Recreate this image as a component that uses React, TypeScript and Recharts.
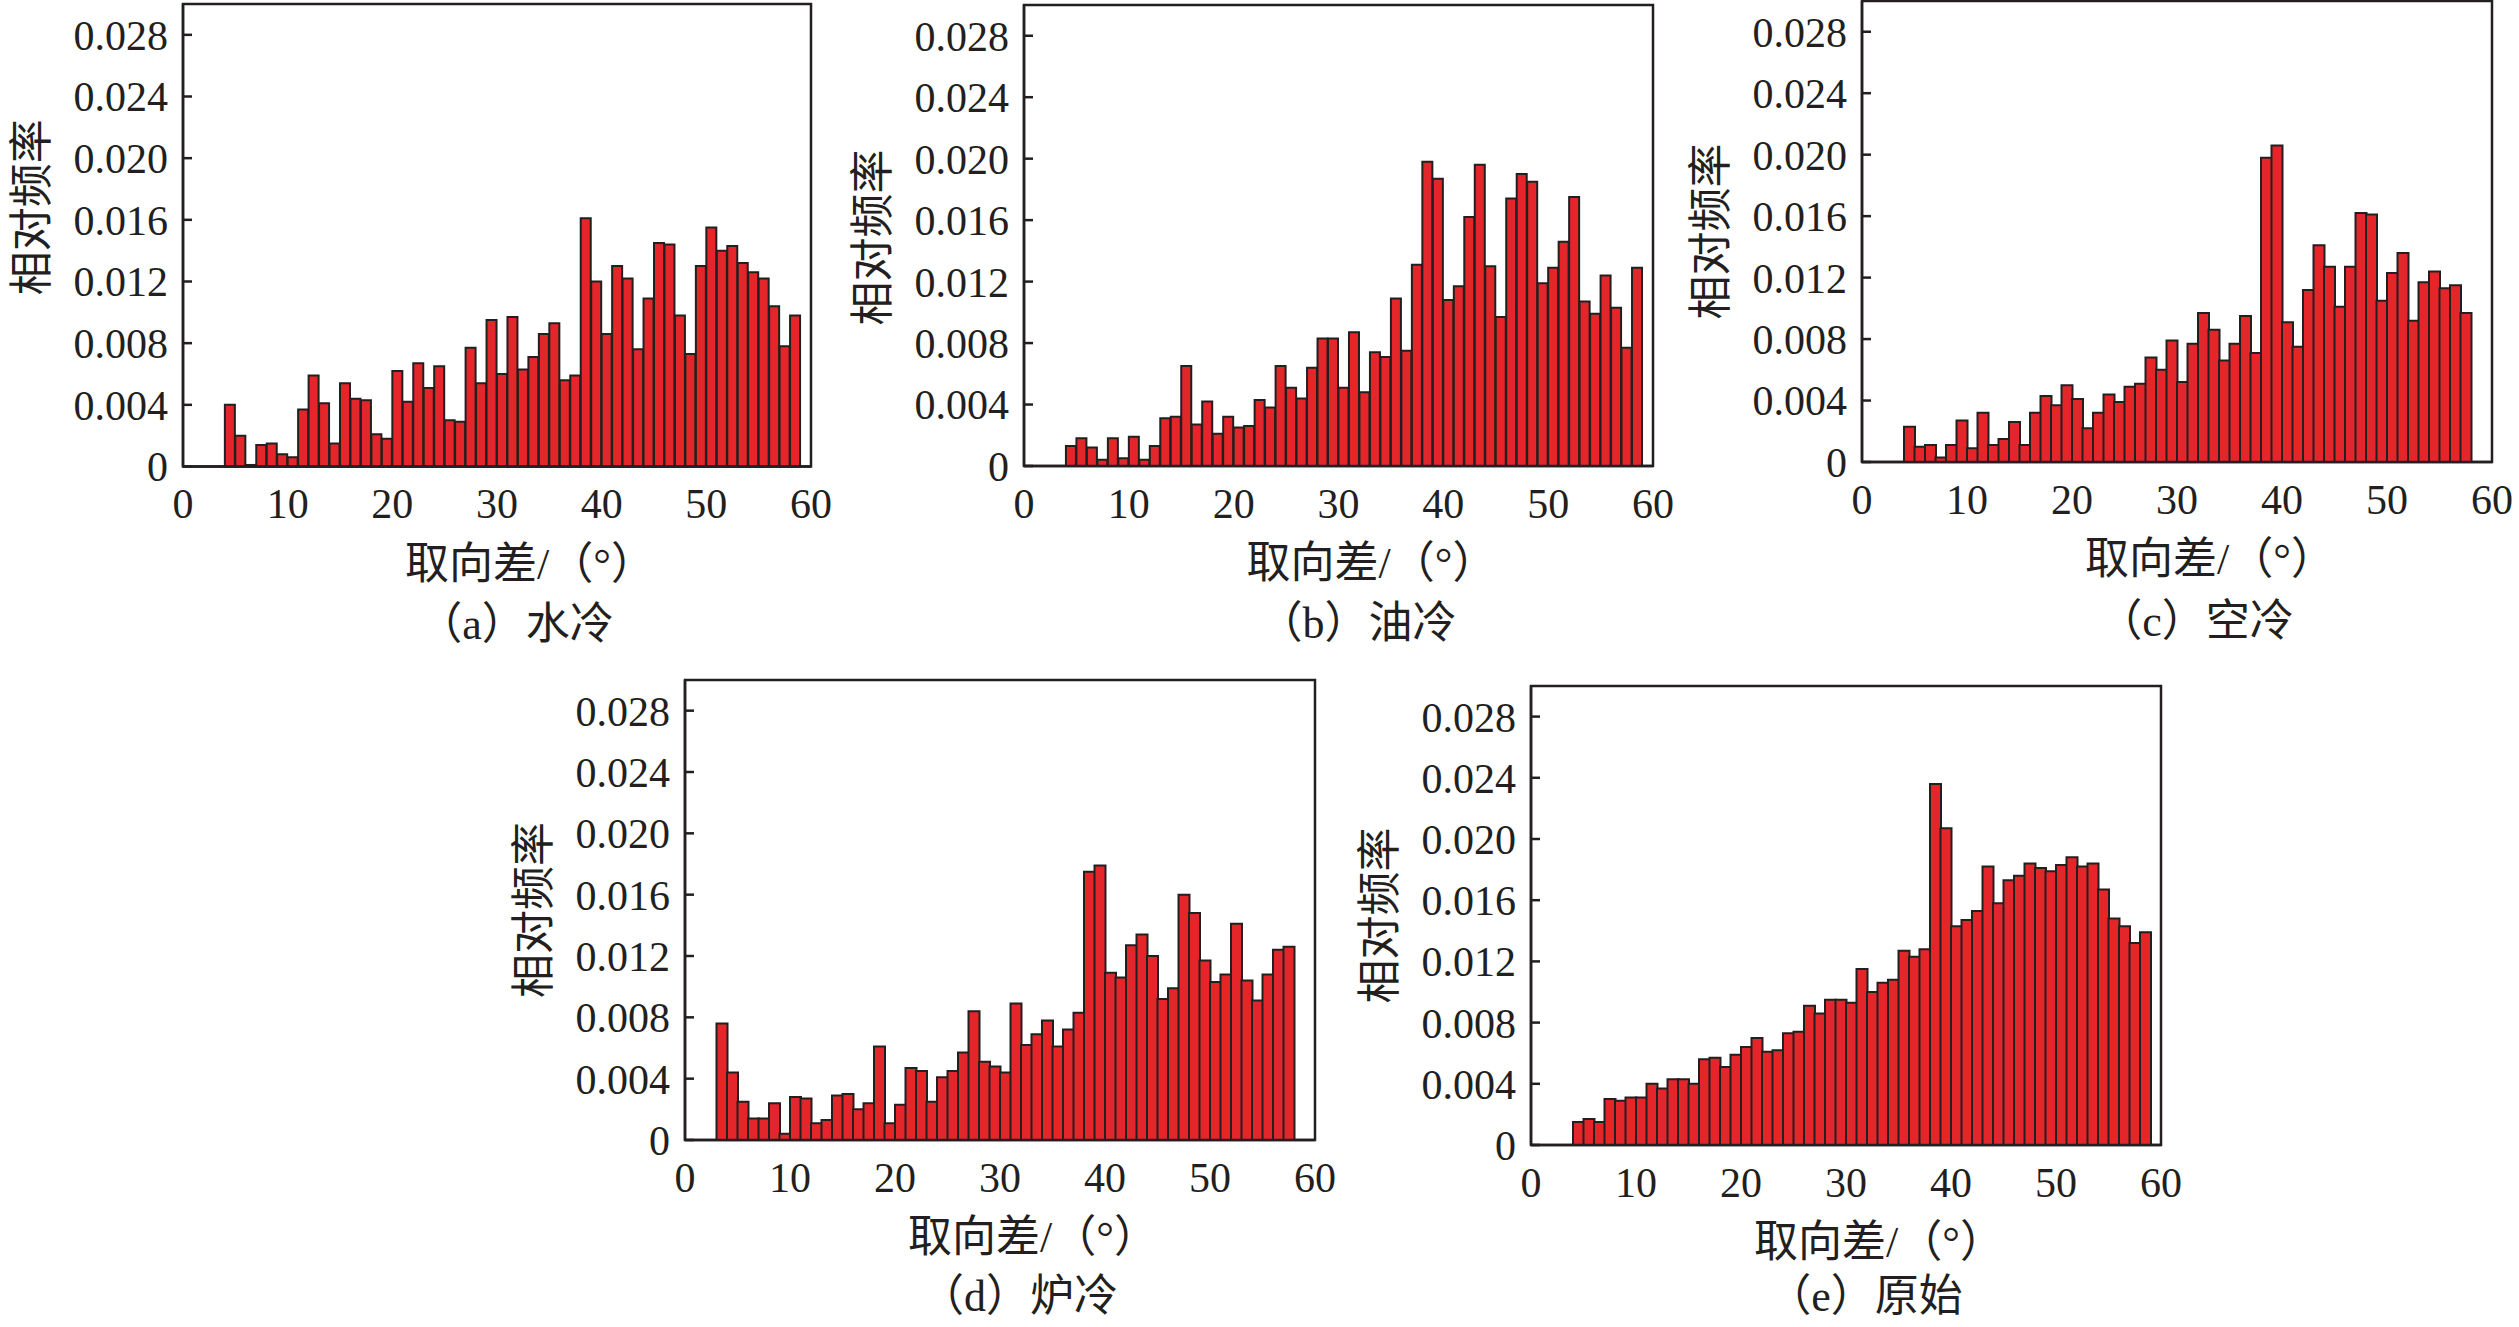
import React from 'react';
import { BarChart, Bar, XAxis, YAxis, ReferenceArea } from 'recharts';

// ---- data ----
const X_TICKS = [0, 10, 20, 30, 40, 50, 60];
const Y_TICKS = [0, 0.004, 0.008, 0.012, 0.016, 0.02, 0.024, 0.028];

const X_LABEL = '取向差/（°）';
const Y_LABEL = '相对频率';

// (a) 水冷, bins start at 4°
const WATER = [
  0.004, 0.002, 0.0001, 0.0014, 0.0015, 0.0008, 0.0006, 0.0037, 0.0059, 0.0041,
  0.0015, 0.0054, 0.0044, 0.0043, 0.0021, 0.0018, 0.0062, 0.0042, 0.0067, 0.0051,
  0.0065, 0.003, 0.0029, 0.0077, 0.0054, 0.0095, 0.006, 0.0097, 0.0063, 0.0071,
  0.0086, 0.0093, 0.0056, 0.0059, 0.0161, 0.012, 0.0086, 0.013, 0.0122, 0.0076,
  0.0109, 0.0145, 0.0144, 0.0098, 0.0073, 0.013, 0.0155, 0.014, 0.0143, 0.0132,
  0.0126, 0.0122, 0.0104, 0.0078, 0.0098,
];
// (b) 油冷, bins start at 4°
const OIL = [
  0.0013, 0.0018, 0.0012, 0.0004, 0.0018, 0.0005, 0.0019, 0.0004, 0.0013, 0.0031,
  0.0032, 0.0065, 0.0027, 0.0042, 0.0021, 0.0032, 0.0025, 0.0026, 0.0043, 0.0038,
  0.0065, 0.0051, 0.0044, 0.0064, 0.0083, 0.0083, 0.0051, 0.0087, 0.0048, 0.0074,
  0.0071, 0.0109, 0.0075, 0.0131, 0.0198, 0.0187, 0.0108, 0.0117, 0.0162, 0.0196,
  0.013, 0.0097, 0.0174, 0.019, 0.0185, 0.0119, 0.0129, 0.0146, 0.0175, 0.0107,
  0.0099, 0.0124, 0.0103, 0.0077, 0.0129,
];
// (c) 空冷, bins start at 4°
const AIR = [
  0.0023, 0.001, 0.0011, 0.0003, 0.0011, 0.0027, 0.0009, 0.0032, 0.0011, 0.0015,
  0.0026, 0.0011, 0.0032, 0.0043, 0.0037, 0.005, 0.0041, 0.0022, 0.0032, 0.0044,
  0.0039, 0.0049, 0.0051, 0.0068, 0.006, 0.0079, 0.0052, 0.0077, 0.0097, 0.0086,
  0.0066, 0.0077, 0.0095, 0.0071, 0.0198, 0.0206, 0.0091, 0.0075, 0.0112, 0.0141,
  0.0127, 0.0101, 0.0127, 0.0162, 0.0161, 0.0105, 0.0123, 0.0136, 0.0092, 0.0117,
  0.0124, 0.0113, 0.0115, 0.0097,
];
// (d) 炉冷, bins start at 3°
const FURNACE = [
  0.0076, 0.0044, 0.0025, 0.0014, 0.0014, 0.0024, 0.0004, 0.0028, 0.0027, 0.0011,
  0.0013, 0.0029, 0.003, 0.002, 0.0024, 0.0061, 0.0011, 0.0023, 0.0047, 0.0045,
  0.0025, 0.0041, 0.0045, 0.0057, 0.0084, 0.0051, 0.0048, 0.0044, 0.0089, 0.0062,
  0.0069, 0.0078, 0.0061, 0.0072, 0.0083, 0.0175, 0.0179, 0.0109, 0.0106, 0.0127,
  0.0134, 0.012, 0.0092, 0.0099, 0.016, 0.0148, 0.0117, 0.0103, 0.0108, 0.0141,
  0.0104, 0.0091, 0.0108, 0.0124, 0.0126,
];
// (e) 原始, bins start at 4°
const ORIGINAL = [
  0.0015, 0.0017, 0.0015, 0.003, 0.0029, 0.0031, 0.0031, 0.004, 0.0037, 0.0043,
  0.0043, 0.004, 0.0056, 0.0057, 0.0051, 0.0059, 0.0064, 0.007, 0.0061, 0.0062,
  0.0073, 0.0074, 0.0091, 0.0086, 0.0095, 0.0095, 0.0093, 0.0115, 0.01, 0.0106,
  0.0108, 0.0127, 0.0123, 0.0128, 0.0236, 0.0207, 0.0143, 0.0147, 0.0153, 0.0182,
  0.0158, 0.0173, 0.0176, 0.0184, 0.0181, 0.0179, 0.0183, 0.0188, 0.0182, 0.0184,
  0.0167, 0.0148, 0.0143, 0.0132, 0.0139,
];

const PANELS = [
  { values: WATER, start: 4, caption: '（a）水冷', l: 183, t: 3.5, w: 628, h: 462.5, yShift: -28, capDy: 172 },
  { values: OIL, start: 4, caption: '（b）油冷', l: 1024, t: 5, w: 629, h: 461, yShift: 2, capDy: 172 },
  { values: AIR, start: 4, caption: '（c）空冷', l: 1862, t: 1, w: 630, h: 461, yShift: 0, capDy: 174 },
  { values: FURNACE, start: 3, caption: '（d）炉冷', l: 685, t: 680, w: 630, h: 460, yShift: 0, capDy: 171 },
  { values: ORIGINAL, start: 4, caption: '（e）原始', l: 1531, t: 686, w: 630, h: 459, yShift: 0, capDy: 166 },
];

const INK = '#231f20';
const RED = '#e4262a';
const LATIN = 'Liberation Serif';
const MIXED = 'Liberation Serif, Noto Sans CJK SC';

const ML = 180;
const MT = 20;
const MR = 40;
const MB = 200;

function XTick(props: any) {
  const { x, y, payload } = props;
  return (
    <text
      x={x}
      y={y}
      dy="0.71em"
      textAnchor="middle"
      fontSize={42}
      fontFamily={LATIN}
      style={{ fontFamily: LATIN }}
      fill={INK}
    >
      {String(payload.value)}
    </text>
  );
}

function YTick(props: any) {
  const { x, y, payload } = props;
  const v = Number(payload.value);
  return (
    <text
      x={x}
      y={y}
      dy="0.355em"
      textAnchor="end"
      fontSize={42}
      fontFamily={LATIN}
      style={{ fontFamily: LATIN }}
      fill={INK}
    >
      {v === 0 ? '0' : v.toFixed(3)}
    </text>
  );
}

function Panel(props: any) {
  const { values, start, caption, l, t, w, h, yShift, capDy } = props;
  const data = values.map((v: number, i: number) => ({ x: start + i + 0.5, v }));
  const W = ML + w + MR;
  const H = MT + h + MB;
  const cx = ML + w / 2;
  const axisY = MT + h;
  const yCx = ML - 153 + 17;
  const yCy = MT + h / 2 + yShift;

  const xTitle = () => (
    <g>
      <text
        x={cx + 33}
        y={axisY + 112}
        textAnchor="middle"
        fontSize={44}
        fontFamily={MIXED}
        style={{ fontFamily: MIXED }}
        fill={INK}
      >
        {X_LABEL}
      </text>
      <text
        x={cx + 19}
        y={axisY + capDy}
        textAnchor="middle"
        fontSize={44}
        fontFamily={MIXED}
        style={{ fontFamily: MIXED }}
        fill={INK}
      >
        {caption}
      </text>
    </g>
  );
  const yTitle = () => (
    <text
      x={yCx}
      y={yCy}
      textAnchor="middle"
      fontSize={44}
      fontFamily={MIXED}
      style={{ fontFamily: MIXED }}
      fill={INK}
      transform={`rotate(-90, ${yCx}, ${yCy})`}
    >
      {Y_LABEL}
    </text>
  );

  return (
    <div style={{ position: 'absolute', left: l - ML, top: t - MT, width: W, height: H }}>
      <BarChart
        width={W}
        height={H}
        data={data}
        margin={{ top: MT, right: MR, bottom: 0, left: 0 }}
        barCategoryGap={0}
        barGap={0}
      >
        <XAxis
          type="number"
          dataKey="x"
          domain={[0, 60]}
          ticks={X_TICKS}
          interval={0}
          height={MB}
          tickSize={0}
          tickMargin={22}
          axisLine={{ stroke: INK, strokeWidth: 2.5 }}
          tickLine={false}
          tick={<XTick />}
          label={xTitle}
        />
        <YAxis
          type="number"
          domain={[0, 0.03]}
          ticks={Y_TICKS}
          interval={0}
          width={ML}
          tickSize={-9}
          tickMargin={24}
          axisLine={{ stroke: INK, strokeWidth: 2.5 }}
          tickLine={{ stroke: INK, strokeWidth: 2.5 }}
          tick={<YTick />}
          label={yTitle}
        />
        <Bar dataKey="v" fill={RED} stroke={INK} strokeWidth={2} isAnimationActive={false} />
        <ReferenceArea
          x1={0}
          x2={60}
          y1={0}
          y2={0.03}
          fill="none"
          fillOpacity={0}
          stroke={INK}
          strokeWidth={2.5}
          ifOverflow="visible"
        />
      </BarChart>
    </div>
  );
}

export default function App() {
  return (
    <div
      style={{
        position: 'absolute',
        left: 0,
        top: 0,
        width: 2519,
        height: 1327,
        overflow: 'hidden',
        background: '#fff',
      }}
    >
      {PANELS.map((p, i) => (
        <Panel key={i} {...p} />
      ))}
    </div>
  );
}
